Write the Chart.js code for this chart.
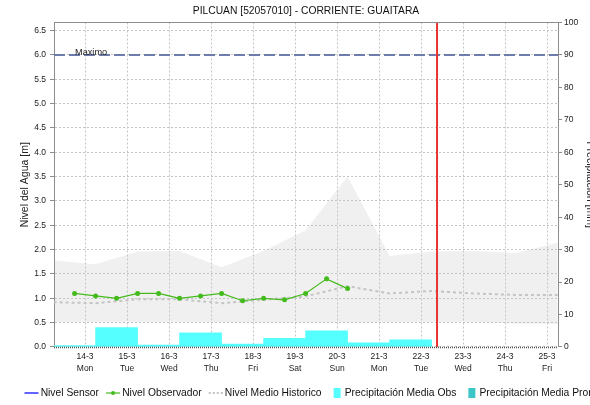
<!DOCTYPE html>
<html>
<head>
<meta charset="utf-8">
<script src="https://cdn.jsdelivr.net/npm/chart.js@4.4.0/dist/chart.umd.min.js"></script>
<style>
  html, body { margin: 0; padding: 0; background: #fff; }
  #wrap { width: 590px; height: 405px; overflow: hidden; position: relative; }
  canvas { display: block; }
</style>
</head>
<body>
<div id="wrap"><canvas id="chart" width="700" height="405"></canvas></div>
<script>
// x values are days of March; the fraction is the hour of the day (0.25 = 06:00)
const TITLE = 'PILCUAN [52057010] - CORRIENTE: GUAITARA';
const X_MIN = 13.26;
const X_MAX = 25.26;
const TICK_DAYS = [14, 15, 16, 17, 18, 19, 20, 21, 22, 23, 24, 25];
const DAY_LABELS = ['14-3', '15-3', '16-3', '17-3', '18-3', '19-3', '20-3', '21-3', '22-3', '23-3', '24-3', '25-3'];
const WEEKDAYS = ['Mon', 'Tue', 'Wed', 'Thu', 'Fri', 'Sat', 'Sun', 'Mon', 'Tue', 'Wed', 'Thu', 'Fri'];

// observer readings, 06:00 and 18:00
const OBS_TIMES = [13.75, 14.25, 14.75, 15.25, 15.75, 16.25, 16.75, 17.25, 17.75, 18.25, 18.75, 19.25, 19.75, 20.25];
const OBS_LEVEL = [1.10, 1.05, 1.00, 1.10, 1.10, 1.00, 1.05, 1.10, 0.95, 1.00, 0.97, 1.10, 1.40, 1.20];
const SENSOR_LEVEL = [];

// historic band (min / max) and mean level
const HIST_TIMES = [13.25, 14.25, 15.25, 16.25, 17.25, 18.25, 19.25, 20.25, 21.25, 22.25, 23.25, 24.25, 25.25];
const HIST_MAX = [1.78, 1.70, 1.96, 1.97, 1.64, 1.97, 2.40, 3.50, 1.87, 1.96, 1.97, 1.93, 2.14];
const HIST_MIN = [0.52, 0.52, 0.52, 0.52, 0.51, 0.50, 0.50, 0.50, 0.51, 0.52, 0.52, 0.48, 0.48];
const HIST_MEAN = [0.92, 0.90, 0.98, 0.98, 0.90, 0.97, 1.04, 1.25, 1.10, 1.15, 1.10, 1.07, 1.07];

// daily rainfall [mm], each bar from 06:00 to 06:00
const RAIN_TIMES = [13.75, 14.75, 15.75, 16.75, 17.75, 18.75, 19.75, 20.75, 21.75];
const RAIN_OBS = [0.4, 6.0, 0.6, 4.4, 0.9, 2.7, 5.0, 1.3, 2.2];
const RAIN_FORECAST = [];

const LEVEL_MAX = 6.0;
const NOW = 22.38;
const LEVEL_AXIS_MAX = 6.6667;
const RAIN_AXIS_MAX = 100;

const FONT = '"Liberation Sans", Arial, sans-serif';
const GRID = '#c4c4c4';
const AXIS = '#8c8c8c';
const GREEN = '#44bb1c';
const CYAN = '#55ffff';
const TEAL = '#3cc6c6';

const pts = (xs, ys) => xs.map((x, i) => ({ x, y: ys[i] }));

// small legend symbols
function marker(draw) {
  const c = document.createElement('canvas');
  c.width = 20; c.height = 12;
  draw(c.getContext('2d'));
  return c;
}
const LEGEND_ITEMS = [
  { text: 'Nivel Sensor', marker: marker(g => {
    g.strokeStyle = '#1010ff'; g.lineWidth = 1.3;
    g.beginPath(); g.moveTo(3, 6); g.lineTo(17, 6); g.stroke();
  }) },
  { text: 'Nivel Observador', marker: marker(g => {
    g.strokeStyle = GREEN; g.lineWidth = 1.2;
    g.beginPath(); g.moveTo(3, 6); g.lineTo(17, 6); g.stroke();
    g.fillStyle = GREEN; g.beginPath(); g.arc(10, 6, 2, 0, Math.PI * 2); g.fill();
  }) },
  { text: 'Nivel Medio Historico', marker: marker(g => {
    g.strokeStyle = '#c4c4c4'; g.lineWidth = 2; g.setLineDash([2, 2]);
    g.beginPath(); g.moveTo(3, 6); g.lineTo(17, 6); g.stroke();
  }) },
  { text: 'Precipitación Media Obs', marker: marker(g => { g.fillStyle = CYAN; g.fillRect(8, 1, 7, 10); }) },
  { text: 'Precipitación Media Pronóstico', marker: marker(g => { g.fillStyle = TEAL; g.fillRect(8, 1, 7, 10); }) }
];

// plot frame (top edge, stippled base line) and the "Maximo" tag
const decorations = {
  id: 'decorations',
  afterDatasetsDraw(chart) {
    const { ctx, chartArea: a, scales: { y } } = chart;
    ctx.save();
    ctx.strokeStyle = AXIS; ctx.lineWidth = 1;
    ctx.beginPath(); ctx.moveTo(a.left, Math.round(a.top) + 0.5); ctx.lineTo(a.right, Math.round(a.top) + 0.5); ctx.stroke();
    ctx.strokeStyle = '#555'; ctx.lineWidth = 1.5; ctx.setLineDash([1, 1]);
    ctx.beginPath(); ctx.moveTo(a.left, a.bottom + 0.5); ctx.lineTo(a.right, a.bottom + 0.5); ctx.stroke();
    ctx.setLineDash([]);
    ctx.fillStyle = '#222';
    ctx.font = '9.2px ' + FONT;
    ctx.textBaseline = 'alphabetic';
    ctx.fillText('Maximo', a.left + 21, y.getPixelForValue(LEVEL_MAX) + 0.5);
    ctx.restore();
  }
};

Chart.defaults.font.family = FONT;
Chart.defaults.color = '#222';

new Chart(document.getElementById('chart'), {
  type: 'line',
  data: {
    datasets: [
      { label: 'Nivel Sensor', data: SENSOR_LEVEL, borderColor: '#1010ff', borderWidth: 1, pointRadius: 0, order: 1 },
      { label: 'Nivel Observador', data: pts(OBS_TIMES, OBS_LEVEL), borderColor: GREEN, borderWidth: 1.2,
        pointRadius: 2.5, pointBackgroundColor: GREEN, pointBorderWidth: 0, order: 1 },
      { label: 'Nivel Medio Historico', data: pts(HIST_TIMES, HIST_MEAN), borderColor: '#c4c4c4', borderWidth: 2,
        borderDash: [3, 3], pointRadius: 0, order: 2 },
      { type: 'bar', label: 'Precipitación Media Obs', data: pts(RAIN_TIMES, RAIN_OBS), yAxisID: 'y1',
        backgroundColor: CYAN, borderWidth: 0, barPercentage: 1, categoryPercentage: 1, grouped: false, order: 5 },
      { type: 'bar', label: 'Precipitación Media Pronóstico', data: RAIN_FORECAST, yAxisID: 'y1',
        backgroundColor: TEAL, borderWidth: 0, barPercentage: 1, categoryPercentage: 1, grouped: false, order: 5 },
      { label: 'min', data: pts(HIST_TIMES, HIST_MIN), borderWidth: 0, pointRadius: 0, fill: false, order: 6 },
      { label: 'max', data: pts(HIST_TIMES, HIST_MAX), borderWidth: 0, pointRadius: 0, fill: '-1',
        backgroundColor: '#f0f0f0', order: 6 },
      { label: 'Maximo', data: [{ x: X_MIN, y: LEVEL_MAX }, { x: X_MAX, y: LEVEL_MAX }], borderColor: '#6e7cab',
        borderWidth: 2, borderDash: [11, 4], pointRadius: 0, order: 3 },
      { label: 'ahora', data: [{ x: NOW, y: 0 }, { x: NOW, y: LEVEL_AXIS_MAX }], borderColor: '#e8332e',
        borderWidth: 2, pointRadius: 0, order: 0 },
      { label: 'ahora-marcas', data: [{ x: NOW, y: 0 }, { x: NOW, y: LEVEL_AXIS_MAX }], borderColor: 'rgba(90,20,20,0.7)',
        borderWidth: 1, borderDash: [2, 9], pointRadius: 0, order: 0 }
    ]
  },
  options: {
    responsive: false,
    devicePixelRatio: 1,
    animation: false,
    layout: { padding: { left: 17.5, right: 0, top: 0, bottom: -3.15 } },
    plugins: {
      filler: { drawTime: 'beforeDraw' },
      tooltip: { enabled: false },
      title: {
        display: true, text: TITLE, fullSize: false, color: '#111',
        font: { size: 10.3, weight: 'normal' }, padding: { top: 5.0, bottom: 5.1 }
      },
      legend: {
        position: 'bottom', align: 'start',
        labels: {
          usePointStyle: true, pointStyleWidth: 8, padding: 10, color: '#111',
          font: { size: 10.3 },
          generateLabels: () => LEGEND_ITEMS.map((it, i) => ({
            text: it.text, pointStyle: it.marker, fillStyle: 'rgba(0,0,0,0)', strokeStyle: 'rgba(0,0,0,0)',
            lineWidth: 0, hidden: false, datasetIndex: i, fontColor: '#111'
          }))
        }
      }
    },
    scales: {
      x: {
        type: 'linear', min: X_MIN, max: X_MAX, bounds: 'data', offset: false,
        afterBuildTicks: s => { s.ticks = TICK_DAYS.map(v => ({ value: v })); },
        ticks: {
          autoSkip: false, maxRotation: 0, padding: 4, color: '#222',
          font: { size: 8.5, lineHeight: '12px' },
          callback: v => { const i = TICK_DAYS.indexOf(v); return i < 0 ? '' : [DAY_LABELS[i], WEEKDAYS[i]]; }
        },
        grid: { color: GRID, drawTicks: false, offset: false },
        border: { display: false, dash: [2, 2] },
        afterFit: s => { s.height = 30.85; }
      },
      y: {
        position: 'left', min: 0, max: LEVEL_AXIS_MAX, bounds: 'data',
        ticks: { stepSize: 0.5, includeBounds: false, padding: 4, color: '#222', font: { size: 8.5 },
          callback: v => v.toFixed(1) },
        grid: { color: GRID, tickColor: AXIS, tickLength: 4 },
        border: { color: AXIS, dash: [2, 2] },
        title: { display: true, text: 'Nivel del Agua [m]', color: '#222', font: { size: 10.5 },
          padding: { top: 1.2, bottom: 0 } },
        afterFit: s => { s.width = 36.5; }
      },
      y1: {
        position: 'right', min: 0, max: RAIN_AXIS_MAX, bounds: 'data',
        ticks: { stepSize: 10, includeBounds: false, padding: 2, color: '#222', font: { size: 8.5 },
          callback: v => String(v) },
        grid: { drawOnChartArea: false, tickColor: AXIS, tickLength: 4 },
        border: { color: AXIS },
        title: { display: true, text: 'Precipitación [mm]', color: '#222', font: { size: 10.5 },
          padding: { top: 103.7, bottom: 0 } },
        afterFit: s => { s.width = 142; }
      }
    }
  },
  plugins: [decorations]
});
</script>
</body>
</html>
